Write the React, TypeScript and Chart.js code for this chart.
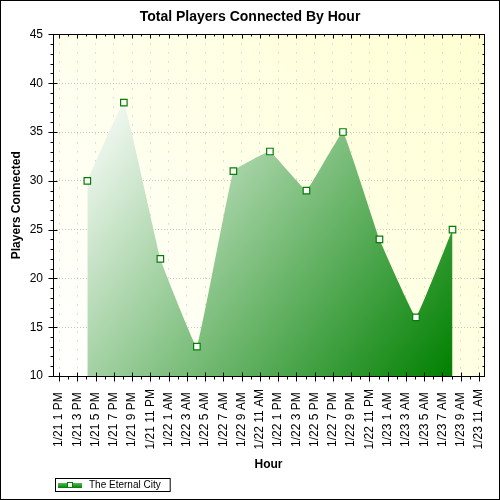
import { useEffect, useRef } from 'react';
import { Chart, registerables } from 'chart.js';

Chart.register(...registerables);

const FONT = '"Liberation Sans", Arial, sans-serif';
Chart.defaults.font.family = FONT;

// x values are hours counted from 1/21 1 PM
const tickHours = [0, 2, 4, 6, 8, 10, 12, 14, 16, 18, 20, 22, 24, 26, 28, 30, 32, 34, 36, 38, 40, 42, 44, 46];
const tickLabels = [
  '1/21 1 PM', '1/21 3 PM', '1/21 5 PM', '1/21 7 PM', '1/21 9 PM', '1/21 11 PM',
  '1/22 1 AM', '1/22 3 AM', '1/22 5 AM', '1/22 7 AM', '1/22 9 AM', '1/22 11 AM',
  '1/22 1 PM', '1/22 3 PM', '1/22 5 PM', '1/22 7 PM', '1/22 9 PM', '1/22 11 PM',
  '1/23 1 AM', '1/23 3 AM', '1/23 5 AM', '1/23 7 AM', '1/23 9 AM', '1/23 11 AM',
];
const sampleHours = [3.1, 7.1, 11.1, 15.1, 19.1, 23.1, 27.1, 31.1, 35.1, 39.1, 43.1];
const playersConnected = [30, 38, 22, 13, 31, 33, 29, 35, 24, 16, 25];
const seriesName = 'The Eternal City';

// white canvas, pale yellow plot background
const plotBackground = {
  id: 'plotBackground',
  beforeDraw(chart: Chart) {
    const { ctx, chartArea: a } = chart;
    ctx.save();
    ctx.fillStyle = '#fff';
    ctx.fillRect(0, 0, chart.width, chart.height);
    const g = ctx.createLinearGradient(a.left, a.bottom, a.right, a.top);
    g.addColorStop(0, '#ffffff');
    g.addColorStop(1, '#ffffd2');
    ctx.fillStyle = g;
    ctx.fillRect(a.left, a.top, a.right - a.left, a.bottom - a.top);
    ctx.restore();
  },
};

// box around the plot with major/minor tick marks on all four sides
const frameTicks = {
  id: 'frameTicks',
  afterDraw(chart: Chart) {
    const { ctx, chartArea, scales } = chart;
    const x = scales.x;
    const y = scales.y;
    const L = Math.round(chartArea.left) + 0.5;
    const R = Math.round(chartArea.right) + 0.5;
    const T = Math.round(chartArea.top) + 0.5;
    const B = Math.round(chartArea.bottom) + 0.5;
    ctx.save();
    ctx.strokeStyle = '#000';
    ctx.lineWidth = 1;
    ctx.beginPath();
    for (let h = Math.ceil(x.min); h <= x.max; h++) {
      const px = Math.round(x.getPixelForValue(h)) + 0.5;
      const major = h % 2 === 0;
      ctx.moveTo(px, B - (major ? 4 : 0));
      ctx.lineTo(px, B + (major ? 5 : 3));
      ctx.moveTo(px, T);
      ctx.lineTo(px, T + (major ? 4 : 2));
    }
    for (let v = y.min; v <= y.max; v++) {
      const py = Math.round(y.getPixelForValue(v)) + 0.5;
      const major = v % 5 === 0;
      ctx.moveTo(L - (major ? 5 : 3), py);
      ctx.lineTo(L + (major ? 4 : 0), py);
      ctx.moveTo(R, py);
      ctx.lineTo(R - (major ? 4 : 2), py);
    }
    ctx.stroke();
    ctx.strokeRect(L, T, R - L, B - T);
    ctx.strokeRect(0.5, 0.5, chart.width - 1, chart.height - 1);
    ctx.restore();
  },
};

// small boxed legend at the bottom left
const legendBox = {
  id: 'legendBox',
  afterDraw(chart: Chart) {
    const { ctx } = chart;
    const label = String(chart.data.datasets[0].label);
    ctx.save();
    ctx.font = `10px ${FONT}`;
    const tw = ctx.measureText(label).width;
    const bx = 55;
    const by = 478;
    ctx.strokeStyle = '#000';
    ctx.lineWidth = 1;
    ctx.strokeRect(bx + 0.5, by + 0.5, 34 + tw + 9, 13);
    const g = ctx.createLinearGradient(0, by + 4, 0, by + 10);
    g.addColorStop(0, '#6cc06c');
    g.addColorStop(1, '#008000');
    ctx.fillStyle = g;
    ctx.fillRect(bx + 3, by + 5, 24, 5);
    ctx.fillStyle = '#fff';
    ctx.fillRect(bx + 12, by + 4, 6, 6);
    ctx.strokeStyle = '#008000';
    ctx.strokeRect(bx + 12.5, by + 4.5, 5, 5);
    ctx.fillStyle = '#000';
    ctx.textBaseline = 'middle';
    ctx.fillText(label, bx + 34, by + 7.5);
    ctx.restore();
  },
};

export default function App() {
  const canvasRef = useRef<HTMLCanvasElement>(null);

  useEffect(() => {
    if (!canvasRef.current) return;
    const chart = new Chart(canvasRef.current, {
      type: 'line',
      data: {
        datasets: [
          {
            label: seriesName,
            data: sampleHours.map((h, i) => ({ x: h, y: playersConnected[i] })),
            fill: 'start',
            tension: 0.06,
            borderColor: 'rgba(0,0,0,0)',
            borderWidth: 0,
            backgroundColor: (c: any) => {
              const { chart: ch } = c;
              const { ctx, chartArea, scales } = ch;
              if (!chartArea) return 'rgba(0,128,0,0.5)';
              const x0 = scales.x.getPixelForValue(Math.min(...sampleHours));
              const x1 = scales.x.getPixelForValue(Math.max(...sampleHours));
              const y0 = scales.y.getPixelForValue(Math.max(...playersConnected));
              const g = ctx.createLinearGradient(x0, y0, x1, chartArea.bottom);
              g.addColorStop(0, '#ffffff');
              g.addColorStop(1, '#008000');
              return g;
            },
            pointStyle: 'rect',
            pointRadius: 4.6,
            pointBackgroundColor: '#fff',
            pointBorderColor: '#008000',
            pointBorderWidth: 1.2,
          },
        ],
      },
      options: {
        animation: false,
        responsive: false,
        devicePixelRatio: 1,
        layout: { padding: { left: 0, right: 0, top: 0, bottom: 28 } },
        scales: {
          x: {
            type: 'linear',
            min: -0.66,
            max: 46.55,
            afterBuildTicks: (axis: any) => {
              axis.ticks = tickHours.map((value) => ({ value }));
            },
            afterFit: (axis: any) => {
              axis.height = 96;
              axis.paddingLeft = 0;
              axis.paddingRight = 0;
            },
            ticks: {
              autoSkip: false,
              minRotation: 90,
              maxRotation: 90,
              padding: 13,
              color: '#000',
              font: { size: 12 },
              // pad short labels so all of them sit centred under the axis
              callback: (_v: any, i: number) => tickLabels[i].padEnd(10, ' '),
            },
            grid: { color: '#c4c4c4', drawTicks: false },
            border: { display: false, dash: [1, 8] },
            title: {
              display: true,
              text: 'Hour',
              color: '#000',
              font: { size: 12, weight: 'bold' },
              padding: { top: 0, bottom: 0 },
            },
          },
          y: {
            min: 10,
            max: 45,
            afterFit: (axis: any) => {
              axis.width = 53;
            },
            ticks: { stepSize: 5, padding: 10, color: '#000', font: { size: 12 } },
            grid: { color: '#c4c4c4', drawTicks: false },
            border: { display: false, dash: [1, 2] },
            title: {
              display: true,
              text: 'Players Connected',
              color: '#000',
              font: { size: 12, weight: 'bold' },
              padding: { top: 9, bottom: 0 },
            },
          },
          // empty right gutter so the title stays centred on the canvas
          y2: {
            type: 'linear',
            position: 'right',
            display: true,
            ticks: { display: false },
            grid: { display: false },
            border: { display: false },
            afterFit: (axis: any) => {
              axis.width = 16;
            },
          },
        },
        plugins: {
          legend: { display: false },
          tooltip: { enabled: false },
          title: {
            display: true,
            text: 'Total Players Connected By Hour',
            color: '#000',
            font: { size: 14, weight: 'bold' },
            padding: { top: 8.6, bottom: 9 },
          },
        },
      },
      plugins: [plotBackground, frameTicks, legendBox],
    });
    return () => chart.destroy();
  }, []);

  return (
    <div style={{ position: 'absolute', left: 0, top: 0, width: 500, height: 500 }}>
      <canvas ref={canvasRef} width={500} height={500} style={{ display: 'block' }} />
    </div>
  );
}
